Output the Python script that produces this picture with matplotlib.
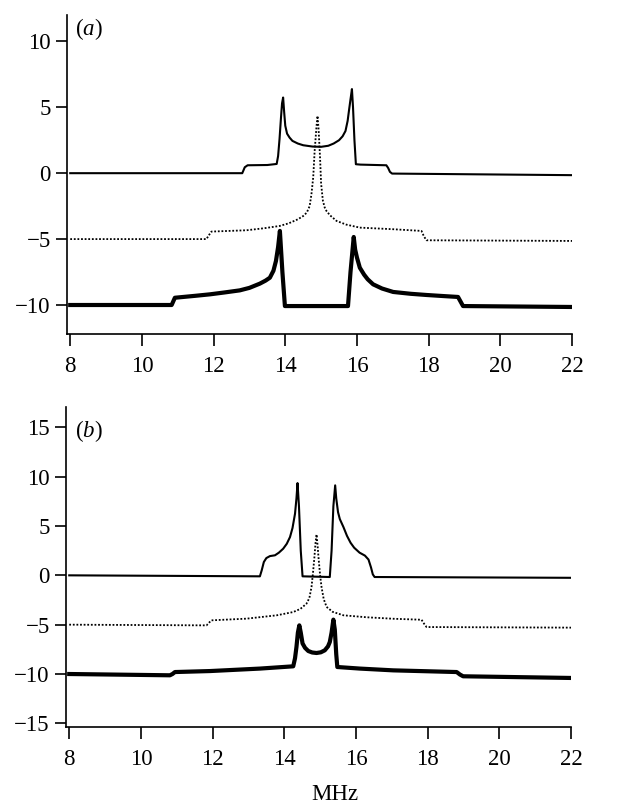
# -*- coding: utf-8 -*-

import matplotlib
matplotlib.use('Agg')
import matplotlib.pyplot as plt

plt.rcParams['font.family'] = ['Liberation Serif', 'DejaVu Serif']
plt.rcParams['mathtext.fontset'] = 'custom'
plt.rcParams['mathtext.rm'] = 'Liberation Serif'
plt.rcParams['mathtext.it'] = 'Liberation Serif:italic'

# panel (a) (MHz, signal)
a_top_x = [8, 12.8, 12.87, 12.95, 13.5, 13.76, 13.8, 13.84, 13.88, 13.91, 13.94, 13.97,
           14.0, 14.05, 14.12, 14.2, 14.35, 14.5, 14.76, 15.0, 15.2, 15.35, 15.5,
           15.6, 15.68, 15.74, 15.78, 15.82, 15.86, 15.89, 15.93, 15.97,
           16.1, 16.82, 16.87, 16.92, 16.98, 22]
a_top_y = [0, 0, 0.45, 0.6, 0.62, 0.7, 1.3, 2.6, 4.2, 5.3, 5.74, 4.6,
           3.6, 3.0, 2.7, 2.45, 2.25, 2.12, 2.02, 2.0, 2.08, 2.25, 2.5,
           2.8, 3.2, 3.97, 4.8, 5.6, 6.38, 5.0, 2.5, 0.68,
           0.65, 0.6, 0.4, 0.1, -0.03, -0.15]

a_mid_x = [8, 11.8, 11.87, 11.94, 12.92, 13.4, 13.85, 14.1, 14.35, 14.5, 14.6, 14.68,
           14.73, 14.78, 14.82, 14.87, 14.9, 14.93, 14.97, 15.0, 15.05, 15.1, 15.15,
           15.25, 15.43, 15.7, 16.08, 17.0, 17.8, 17.87, 17.94, 22]
a_mid_y = [-5.0, -5.0, -4.7, -4.43, -4.33, -4.18, -4.0, -3.8, -3.5, -3.25, -2.99, -2.5,
           -1.6, -0.3, 1.7, 3.5, 4.35, 3.3, 1.2, -0.8, -2.1, -2.6, -2.87,
           -3.2, -3.62, -3.9, -4.13, -4.25, -4.38, -4.8, -5.09, -5.14]

a_bot_x = [8, 10.83, 10.92, 11.5, 11.9, 12.3, 12.73, 13.0, 13.29, 13.45, 13.57, 13.67,
           13.74, 13.8, 13.85, 13.92, 13.99, 15.75, 15.82, 15.91, 15.95, 16.0, 16.08,
           16.2, 16.3, 16.45, 16.7, 17.01, 17.5, 17.94, 18.4, 18.82, 18.96, 22]
a_bot_y = [-10.0, -10.0, -9.45, -9.3, -9.19, -9.05, -8.89, -8.7, -8.38, -8.15, -7.93, -7.4,
           -6.66, -5.6, -4.38, -7.5, -10.08, -10.08, -7.5, -4.84, -5.8, -6.4, -7.17,
           -7.7, -8.05, -8.43, -8.75, -9.01, -9.15, -9.24, -9.32, -9.39, -10.08, -10.15]

# panel (b)
b_top_x = [8, 13.32, 13.37, 13.43, 13.5, 13.6, 13.74, 13.85, 13.97, 14.07, 14.16, 14.23,
           14.3, 14.34, 14.37, 14.41, 14.46, 14.51,
           15.27, 15.32, 15.37, 15.42, 15.45, 15.5, 15.55, 15.65, 15.75, 15.85, 15.95,
           16.1, 16.25, 16.35, 16.42, 16.47, 16.52, 22]
b_top_y = [0, -0.1, 0.5, 1.35, 1.75, 1.95, 2.03, 2.3, 2.7, 3.2, 3.88, 4.8,
           6.25, 7.8, 9.35, 7.0, 2.5, -0.1,
           -0.17, 2.5, 7.0, 9.12, 7.8, 6.4, 5.7, 4.9, 4.0, 3.3, 2.8,
           2.3, 2.0, 1.6, 0.8, 0.1, -0.17, -0.25]

b_mid_x = [8, 11.83, 11.9, 11.97, 12.95, 13.79, 14.25, 14.45, 14.62, 14.7, 14.76, 14.8,
           14.84, 14.87, 14.9, 14.93, 14.96, 15.0, 15.04, 15.1, 15.18, 15.35, 15.65,
           16.3, 17.04, 17.83, 17.9, 17.97, 22]
b_mid_y = [-5.0, -5.07, -4.8, -4.56, -4.39, -4.05, -3.72, -3.4, -2.87, -2.3, -1.18, 0.2,
           1.8, 3.2, 4.15, 3.0, 1.6, 0.0, -1.2, -2.4, -3.2, -3.7, -4.05,
           -4.25, -4.4, -4.5, -4.9, -5.24, -5.3]

b_bot_x = [8, 10.81, 10.88, 10.95, 11.93, 13.32, 14.25, 14.3, 14.34, 14.38, 14.42, 14.46,
           14.51, 14.58, 14.67, 14.78, 14.9, 15.02, 15.13, 15.22, 15.27, 15.32, 15.37,
           15.41, 15.45, 15.48, 16.11, 17.04, 18.81, 18.9, 18.99, 22]
b_bot_y = [-10.0, -10.13, -10.0, -9.8, -9.7, -9.45, -9.22, -8.4, -7.26, -5.8, -5.07, -5.8,
           -6.9, -7.35, -7.67, -7.82, -7.87, -7.8, -7.6, -7.2, -6.76, -5.8, -4.49,
           -5.5, -8.0, -9.29, -9.45, -9.63, -9.8, -10.05, -10.23, -10.4]

xticks = [8, 10, 12, 14, 16, 18, 20, 22]


def style_axes(ax, yticks, ylim):
    ax.set_xlim(7.91, 22)
    ax.set_ylim(*ylim)
    ax.set_xticks(xticks)
    ax.set_yticks(yticks)
    ax.spines['top'].set_visible(False)
    ax.spines['right'].set_visible(False)
    for s in ('left', 'bottom'):
        ax.spines[s].set_linewidth(1.2)
    ax.tick_params(axis='x', direction='out', length=8.5, width=1.2, pad=7.5, labelsize=16.5)
    ax.tick_params(axis='y', direction='out', length=7.7, width=1.2, pad=4, labelsize=16.5)


def main():
    fig = plt.figure(figsize=(6.34, 8.05), dpi=100)
    ax_a = fig.add_axes([67 / 634, 1 - 334 / 805, 505 / 634, 319 / 805])
    ax_b = fig.add_axes([66 / 634, 1 - 727 / 805, 505 / 634, 320 / 805])

    for ax, top, mid, bot in [(ax_a, (a_top_x, a_top_y), (a_mid_x, a_mid_y), (a_bot_x, a_bot_y)),
                              (ax_b, (b_top_x, b_top_y), (b_mid_x, b_mid_y), (b_bot_x, b_bot_y))]:
        ax.plot(top[0], top[1], color='black', lw=1.5, solid_joinstyle='round')
        ax.plot(mid[0], mid[1], color='black', lw=1.3, linestyle=(0, (1, 1)))
        ax.plot(bot[0], bot[1], color='black', lw=3.0, solid_joinstyle='round')

    style_axes(ax_a, [-10, -5, 0, 5, 10], (-12.2, 12))
    style_axes(ax_b, [-15, -10, -5, 0, 5, 10, 15], (-15.37, 17.06))

    ax_a.text(0.016, 0.996, r'($\mathit{a}$)', transform=ax_a.transAxes,
              fontsize=16.5, va='top', ha='left')
    ax_b.text(0.018, 0.964, r'($\mathit{b}$)', transform=ax_b.transAxes,
              fontsize=16.5, va='top', ha='left')

    fig.text(335 / 634, 1 - 800 / 805, 'MHz', ha='center', va='baseline', fontsize=16.5)

    fig.savefig('out.png', dpi=100)
    plt.close(fig)


if __name__ == '__main__':
    main()
